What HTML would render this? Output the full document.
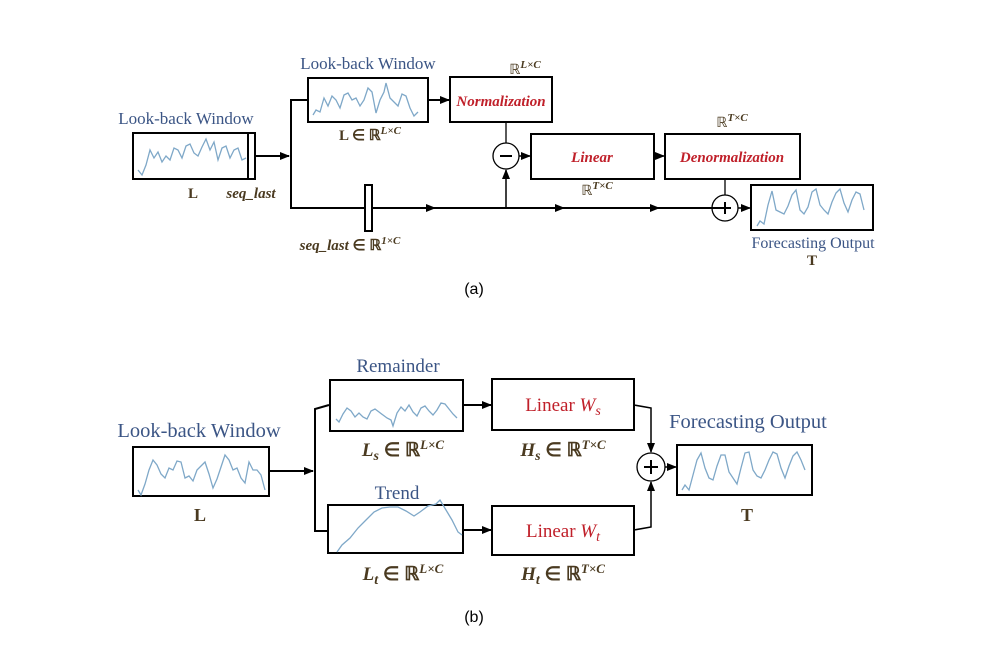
<!DOCTYPE html>
<html><head><meta charset="utf-8"><style>
html,body{margin:0;padding:0;background:#fff;}
svg{display:block;}
.lb{font-family:"Liberation Serif",serif;fill:#3b5585;}
.bk{font-family:"Liberation Serif",serif;fill:#4a3a20;}
.red{font-family:"Liberation Serif",serif;fill:#c0202a;}
.w{fill:none;stroke:#7fa8c8;stroke-width:1.3;}
</style></head><body>
<svg width="1006" height="658" viewBox="0 0 1006 658" xmlns="http://www.w3.org/2000/svg">
<defs>
<marker id="ar" markerWidth="10" markerHeight="8" refX="9" refY="4" orient="auto" markerUnits="userSpaceOnUse"><path d="M0,0 L10,4 L0,8 z" fill="#000"/></marker>
</defs>
<g stroke="#000" stroke-width="2" fill="none">
<rect x="133" y="133" width="122" height="46"/>
<line x1="248" y1="133" x2="248" y2="179"/>
<line x1="255" y1="156" x2="289" y2="156" marker-end="url(#ar)"/>
<polyline points="308,100 291,100 291,208 723,208"/>
<rect x="308" y="78" width="120" height="44"/>
<line x1="428" y1="100" x2="449" y2="100" marker-end="url(#ar)"/>
<rect x="450" y="77" width="102" height="45"/>
<line x1="506" y1="122" x2="506" y2="143" stroke-width="1.3"/>
<circle cx="506" cy="156" r="13" stroke-width="1.3"/>
<line x1="506" y1="208" x2="506" y2="170" stroke-width="1.5" marker-end="url(#ar)"/>
<line x1="519" y1="156" x2="530" y2="156" stroke-width="1.5" marker-end="url(#ar)"/>
<rect x="531" y="134" width="123" height="45"/>
<line x1="654" y1="156" x2="664" y2="156" stroke-width="1.5" marker-end="url(#ar)"/>
<rect x="665" y="134" width="135" height="45"/>
<line x1="725" y1="179" x2="725" y2="195" stroke-width="1.3"/>
<circle cx="725" cy="208" r="13" stroke-width="1.3"/>
<line x1="738" y1="208" x2="750" y2="208" stroke-width="1.5" marker-end="url(#ar)"/>
<rect x="751" y="185" width="122" height="45"/>
<rect x="365" y="185" width="7" height="46" fill="#fff"/>
<rect x="133" y="447" width="136" height="49"/>
<line x1="269" y1="471" x2="313" y2="471" marker-end="url(#ar)"/>
<polyline points="329,405 315,409 315,531 328,531"/>
<rect x="330" y="380" width="133" height="51"/>
<rect x="328" y="505" width="135" height="48"/>
<line x1="463" y1="405" x2="491" y2="405" marker-end="url(#ar)"/>
<line x1="463" y1="530" x2="491" y2="530" marker-end="url(#ar)"/>
<rect x="492" y="379" width="142" height="51"/>
<rect x="492" y="506" width="142" height="49"/>
<polyline points="634,405 651,408 651,452" stroke-width="1.5" marker-end="url(#ar)"/>
<polyline points="634,530 651,527 651,482" stroke-width="1.5" marker-end="url(#ar)"/>
<circle cx="651" cy="467" r="14" stroke-width="1.3"/>
<line x1="665" y1="467" x2="676" y2="467" stroke-width="1.5" marker-end="url(#ar)"/>
<rect x="677" y="445" width="135" height="50"/>
</g>
<g fill="#000">
<path d="M426,204 L436,208 L426,212z"/><path d="M555,204 L565,208 L555,212z"/><path d="M650,204 L660,208 L650,212z"/>
</g>
<g stroke="#000" stroke-width="2">
<line x1="500" y1="156" x2="512" y2="156"/>
<line x1="719" y1="208" x2="731" y2="208"/><line x1="725" y1="202" x2="725" y2="214"/>
<line x1="644" y1="467" x2="658" y2="467"/><line x1="651" y1="460" x2="651" y2="474"/>
</g>
<polyline class="w" points="138,170 142,175 146,165 150,150 154,158 158,152 162,162 166,156 170,160 174,148 178,150 182,158 186,146 190,144 194,153 198,156 202,147 206,139 210,150 214,142 218,160 222,148 226,146 230,158 234,150 238,148 242,160 246,158"/>
<polyline class="w" points="313,115 316,110 320,112 324,98 328,106 332,96 336,100 340,108 344,95 348,93 352,100 356,98 360,106 364,100 368,88 372,92 376,113 380,100 384,92 386,83 390,98 394,102 398,106 402,94 406,96 410,108 414,116 418,112"/>
<polyline class="w" points="757,226 760,221 764,224 768,205 772,191 776,210 780,212 784,214 788,206 792,195 796,190 800,210 804,214 808,207 812,192 816,189 820,205 824,210 828,214 832,202 836,193 840,189 844,203 848,212 852,200 856,192 860,194 864,210"/>
<polyline class="w" points="138,490 141,495 145,484 149,470 153,460 157,465 161,474 165,478 169,468 173,470 177,461 181,462 185,478 189,476 193,481 197,470 201,466 205,462 209,474 213,488 217,479 221,467 225,455 229,460 233,470 237,468 241,478 245,483 249,462 253,470 257,470 261,475 265,490"/>
<polyline class="w" points="336,419 339,422 343,414 347,408 351,411 355,417 359,413 363,417 367,419 371,411 375,409 379,412 383,415 387,418 391,420 393,426 397,413 401,407 405,411 409,405 413,412 417,416 421,408 425,406 429,411 433,415 437,410 441,403 445,404 449,409 453,414 457,418"/>
<polyline class="w" points="337,552 342,545 350,538 358,528 366,520 374,512 382,508 390,507 398,507 406,511 414,516 420,512 428,506 436,504 440,500 446,510 452,520 458,532 462,535"/>
<polyline class="w" points="682,490 685,485 689,490 693,475 697,460 701,453 705,468 709,478 713,480 717,466 721,455 725,455 729,472 733,478 737,484 741,468 745,453 749,452 753,470 757,476 761,478 765,470 769,460 773,452 777,454 781,468 785,478 789,466 793,456 797,452 801,460 805,470"/>
<text x="186" y="124" class="lb" font-size="17" text-anchor="middle">Look-back Window</text>
<text x="193" y="198" class="bk" font-size="15" font-weight="bold" text-anchor="middle">L</text>
<text x="251" y="198" class="bk" font-size="15" font-weight="bold" font-style="italic" text-anchor="middle">seq_last</text>
<text x="368" y="69" class="lb" font-size="17" text-anchor="middle">Look-back Window</text>
<text x="370" y="140" class="bk" font-size="15" font-weight="bold" text-anchor="middle">L ∈ ℝ<tspan font-size="11" font-style="italic" dy="-6">L×C</tspan></text>
<text x="525" y="74" class="bk" font-size="14" text-anchor="middle">ℝ<tspan font-size="11" font-style="italic" font-weight="bold" dy="-6">L×C</tspan></text>
<text x="501" y="106" class="red" font-size="15" font-weight="bold" font-style="italic" text-anchor="middle">Normalization</text>
<text x="592" y="162" class="red" font-size="15" font-weight="bold" font-style="italic" text-anchor="middle">Linear</text>
<text x="732" y="162" class="red" font-size="15" font-weight="bold" font-style="italic" text-anchor="middle">Denormalization</text>
<text x="732" y="127" class="bk" font-size="14" text-anchor="middle">ℝ<tspan font-size="11" font-style="italic" font-weight="bold" dy="-6">T×C</tspan></text>
<text x="597" y="195" class="bk" font-size="14" text-anchor="middle">ℝ<tspan font-size="11" font-style="italic" font-weight="bold" dy="-6">T×C</tspan></text>
<text x="350" y="250" class="bk" font-size="15" font-weight="bold" font-style="italic" text-anchor="middle">seq_last <tspan font-style="normal">∈ ℝ</tspan><tspan font-size="11" dy="-6">1×C</tspan></text>
<text x="813" y="248" class="lb" font-size="16" text-anchor="middle">Forecasting Output</text>
<text x="812" y="265" class="bk" font-size="15" font-weight="bold" text-anchor="middle">T</text>
<text x="474" y="294" font-family="Liberation Sans,sans-serif" font-size="16" text-anchor="middle">(a)</text>
<text x="199" y="437" class="lb" font-size="20.5" text-anchor="middle">Look-back Window</text>
<text x="200" y="521" class="bk" font-size="18" font-weight="bold" text-anchor="middle">L</text>
<text x="398" y="372" class="lb" font-size="19" text-anchor="middle">Remainder</text>
<text x="397" y="499" class="lb" font-size="19" text-anchor="middle">Trend</text>
<text x="403" y="456" class="bk" font-size="19" font-style="italic" font-weight="bold" text-anchor="middle">L<tspan font-size="14" dy="4">s</tspan><tspan dy="-4" font-style="normal"> ∈ ℝ</tspan><tspan font-size="13" dy="-7">L×C</tspan></text>
<text x="403" y="580" class="bk" font-size="19" font-style="italic" font-weight="bold" text-anchor="middle">L<tspan font-size="14" dy="4">t</tspan><tspan dy="-4" font-style="normal"> ∈ ℝ</tspan><tspan font-size="13" dy="-7">L×C</tspan></text>
<text x="563" y="411" class="red" font-size="19" text-anchor="middle">Linear <tspan font-style="italic">W</tspan><tspan font-size="14" font-style="italic" dy="4">s</tspan></text>
<text x="563" y="537" class="red" font-size="19" text-anchor="middle">Linear <tspan font-style="italic">W</tspan><tspan font-size="14" font-style="italic" dy="4">t</tspan></text>
<text x="563" y="456" class="bk" font-size="19" font-style="italic" font-weight="bold" text-anchor="middle">H<tspan font-size="14" dy="4">s</tspan><tspan dy="-4" font-style="normal"> ∈ ℝ</tspan><tspan font-size="13" dy="-7">T×C</tspan></text>
<text x="563" y="580" class="bk" font-size="19" font-style="italic" font-weight="bold" text-anchor="middle">H<tspan font-size="14" dy="4">t</tspan><tspan dy="-4" font-style="normal"> ∈ ℝ</tspan><tspan font-size="13" dy="-7">T×C</tspan></text>
<text x="748" y="428" class="lb" font-size="20.5" text-anchor="middle">Forecasting Output</text>
<text x="747" y="521" class="bk" font-size="18" font-weight="bold" text-anchor="middle">T</text>
<text x="474" y="622" font-family="Liberation Sans,sans-serif" font-size="16" text-anchor="middle">(b)</text>
</svg>
</body></html>
